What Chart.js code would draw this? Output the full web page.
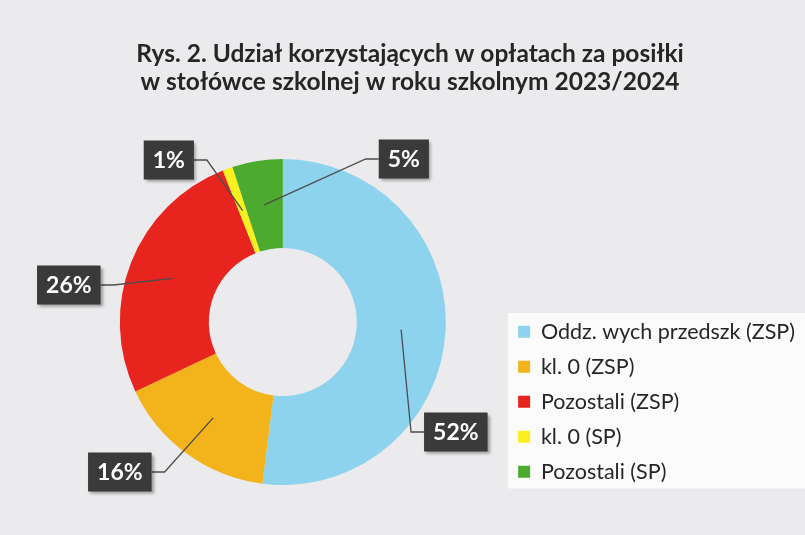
<!DOCTYPE html>
<html>
<head>
<meta charset="utf-8">
<script src="https://cdn.jsdelivr.net/npm/chart.js@4.4.1/dist/chart.umd.min.js"></script>
<style>
html, body { margin: 0; padding: 0; background: #ebebed; }
canvas { display: block; }
</style>
</head>
<body>
<canvas id="chartDoughnut" width="805" height="535"></canvas>
<script>
const titleLines = ['Rys. 2. Udział korzystających w opłatach za posiłki', 'w stołówce szkolnej w roku szkolnym 2023/2024'];
const categories = ['Oddz. wych przedszk (ZSP)', 'kl. 0 (ZSP)', 'Pozostali (ZSP)', 'kl. 0 (SP)', 'Pozostali (SP)'];
const shares = [52, 16, 26, 1, 5];
const sliceColors = ['#8ed3ee', '#f3b31b', '#e8241f', '#f9f01e', '#4caa2e'];

// where each percentage box sits, relative to the middle of the ring
const labelOffsets = [[173, 110], [-163, 150], [-214, -37], [-114, -162], [121, -163]];

const FONT = 'Lato, "Open Sans", sans-serif';

// blank box on the left of the chart area, pushes the ring right without moving the title
const leftGap = {
    id: 'leftGap',
    beforeInit(chart) {
        Chart.layouts.addBox(chart, {
            position: 'left',
            options: { display: false },
            isHorizontal() { return false; },
            update(maxWidth, maxHeight) {
                this.width = 46;
                this.height = maxHeight;
            },
            draw() {}
        });
    }
};

const pageBackground = {
    id: 'pageBackground',
    beforeDraw(chart) {
        const ctx = chart.ctx;
        ctx.save();
        ctx.fillStyle = '#ebebed';
        ctx.fillRect(0, 0, chart.width, chart.height);
        const boxes = chart.legend.legendHitBoxes;
        if (boxes.length) {
            const top = boxes[0].top - 8;
            const last = boxes[boxes.length - 1];
            const bottom = last.top + last.height + 6;
            ctx.fillStyle = '#fbfbfb';
            ctx.fillRect(boxes[0].left - 10, top, chart.width - boxes[0].left + 10, bottom - top);
        }
        ctx.restore();
    }
};

const percentLabels = {
    id: 'percentLabels',
    afterDatasetsDraw(chart) {
        const ctx = chart.ctx;
        const arcs = chart.getDatasetMeta(0).data;
        ctx.save();
        ctx.font = 'bold 23px ' + FONT;
        ctx.textAlign = 'center';
        ctx.textBaseline = 'middle';
        arcs.forEach((arc, i) => {
            const anchor = arc.tooltipPosition();
            const cx = arc.x + labelOffsets[i][0];
            const cy = arc.y + labelOffsets[i][1];
            const text = shares[i] + '%';
            const w = ctx.measureText(text).width + 18;
            const h = 39;
            const toLeft = anchor.x < cx;
            const edgeX = toLeft ? cx - w / 2 : cx + w / 2;
            const elbowX = toLeft ? edgeX - 13 : edgeX + 13;

            ctx.strokeStyle = '#4d4d4d';
            ctx.lineWidth = 1.3;
            ctx.beginPath();
            ctx.moveTo(edgeX, cy);
            ctx.lineTo(elbowX, cy);
            ctx.lineTo(anchor.x, anchor.y);
            ctx.stroke();

            ctx.shadowColor = 'rgba(0,0,0,0.35)';
            ctx.shadowBlur = 3;
            ctx.shadowOffsetX = 2;
            ctx.shadowOffsetY = 2;
            ctx.fillStyle = '#3a3a3a';
            ctx.fillRect(cx - w / 2, cy - h / 2, w, h);
            ctx.shadowColor = 'transparent';
            ctx.fillStyle = '#ffffff';
            ctx.fillText(text, cx, cy + 1);
        });
        ctx.restore();
    }
};

const configDoughnut = {
    type: 'doughnut',
    data: {
        labels: categories,
        datasets: [{
            data: shares,
            backgroundColor: sliceColors,
            borderWidth: 0
        }]
    },
    options: {
        responsive: false,
        animation: false,
        radius: 163,
        cutout: 79,
        layout: {
            padding: { top: 10, left: 15, right: 0, bottom: 39 }
        },
        plugins: {
            title: {
                display: true,
                text: titleLines,
                color: '#262626',
                font: { family: FONT, size: 24.5, weight: 'bold', lineHeight: 1.143 },
                padding: { top: 30, bottom: 52 }
            },
            legend: {
                position: 'right',
                align: 'end',
                labels: {
                    color: '#262626',
                    boxWidth: 12,
                    boxHeight: 12,
                    padding: 13.5,
                    font: { family: FONT, size: 21.5 }
                }
            },
            tooltip: { enabled: false }
        }
    },
    plugins: [leftGap, pageBackground, percentLabels]
};

var chartDoughnut = new Chart(document.getElementById('chartDoughnut'), configDoughnut);
</script>
</body>
</html>
